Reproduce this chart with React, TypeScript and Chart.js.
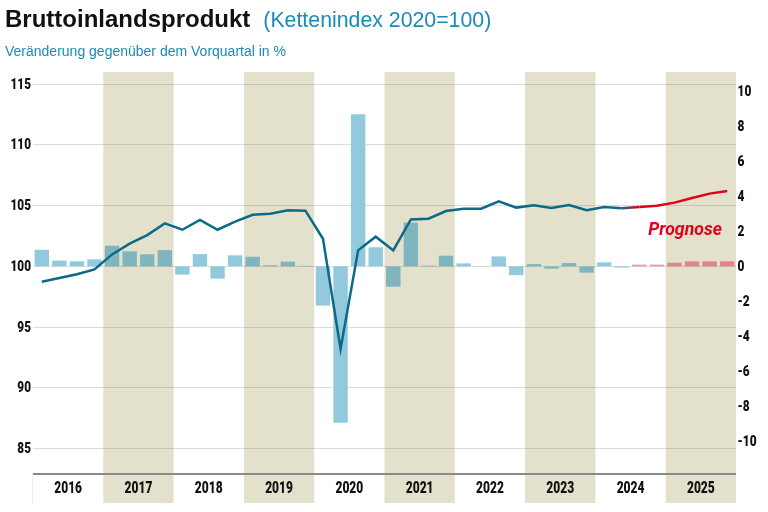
import React, { useEffect, useRef } from "react";
import { Chart, registerables } from "chart.js";

Chart.register(...registerables);

const years = [2016, 2017, 2018, 2019, 2020, 2021, 2022, 2023, 2024, 2025];
const quarters = ["Q1", "Q2", "Q3", "Q4"];

// Chain index 2020=100 (left axis)
const indexValues = [
  98.74, 99.05, 99.35, 99.75,
  100.99, 101.87, 102.58, 103.54,
  103.02, 103.82, 103.02, 103.68,
  104.25, 104.34, 104.62, 104.59,
  102.28, 93.2, 101.32, 102.45,
  101.32, 103.87, 103.93, 104.56,
  104.75, 104.75, 105.36, 104.84,
  105.03, 104.81, 105.06, 104.62,
  104.89, 104.78, 104.89, 105.0,
  105.25, 105.63, 105.99, 106.21,
];

// Change vs. previous quarter in % (right axis)
const changeValues = [
  0.95, 0.33, 0.29, 0.4,
  1.18, 0.86, 0.69, 0.93,
  -0.47, 0.7, -0.7, 0.63,
  0.55, 0.06, 0.27, 0.03,
  -2.24, -8.93, 8.69, 1.09,
  -1.16, 2.5, 0.04, 0.61,
  0.17, 0.02, 0.57, -0.5,
  0.13, -0.13, 0.19, -0.36,
  0.23, -0.07, 0.1, 0.1,
  0.21, 0.29, 0.29, 0.29,
];

const forecastStart = 34; // 2024 Q3
const leftTicks = [85, 90, 95, 100, 105, 110, 115];
const rightTicks = [-10, -8, -6, -4, -2, 0, 2, 4, 6, 8, 10];
const forecastLabel = "Prognose";

const BLUE_LINE = "#0c6a89";
const RED = "#e3001b";
const BAND = "#e3e0cb";
const FONT = "Roboto, 'DejaVu Sans', sans-serif";

const labels: string[] = [];
years.forEach((y) => quarters.forEach((q) => labels.push(`${y} ${q}`)));

const isBandYear = (i: number) => years[Math.floor(i / 4)] % 2 === 1;

const barColors = changeValues.map((_, i) => {
  const band = isBandYear(i);
  if (i >= forecastStart) return band ? "#e0878e" : "#ef9ba1";
  return band ? "#80b5c0" : "#93c9dd";
});

function condensedText(
  ctx: CanvasRenderingContext2D,
  text: string,
  x: number,
  y: number,
  align: CanvasTextAlign,
  factor: number
) {
  ctx.save();
  ctx.translate(x, y);
  ctx.scale(factor, 1);
  ctx.textAlign = align;
  ctx.fillText(text, 0, 0);
  ctx.restore();
}

const decorPlugin = {
  id: "decor",
  beforeDraw(chart: any) {
    const { ctx, chartArea } = chart;
    const x = chart.scales.x;
    const step = x.getPixelForValue(1) - x.getPixelForValue(0);
    ctx.save();
    years.forEach((y, yi) => {
      if (y % 2 !== 1) return;
      const l = x.getPixelForValue(yi * 4) - step / 2;
      const r = x.getPixelForValue(yi * 4 + 3) + step / 2;
      ctx.fillStyle = BAND;
      ctx.fillRect(l, chartArea.top, r - l, chartArea.bottom - chartArea.top + 30);
    });
    ctx.restore();
  },
  afterDatasetsDraw(chart: any) {
    const { ctx, chartArea } = chart;
    const x = chart.scales.x;
    const yL = chart.scales.y;
    const yR = chart.scales.y1;
    ctx.save();
    // faint separator in label area
    ctx.fillStyle = "#ebebeb";
    ctx.fillRect(chartArea.left - 1, chartArea.bottom, 1, 30);
    // axis line
    ctx.fillStyle = "#8a8a8a";
    ctx.fillRect(chartArea.left, chartArea.bottom, chartArea.right - chartArea.left, 2);
    // tick labels
    ctx.fillStyle = "#111";
    ctx.font = `900 14px ${FONT}`;
    ctx.textBaseline = "middle";
    leftTicks.forEach((v) => {
      condensedText(ctx, String(v), chartArea.left - 2, yL.getPixelForValue(v) + 1, "right", 0.84);
    });
    rightTicks.forEach((v) => {
      condensedText(ctx, String(v), chartArea.right + 1.5, yR.getPixelForValue(v) + 1, "left", 0.85);
    });
    // year labels
    ctx.font = `900 16px ${FONT}`;
    years.forEach((y, yi) => {
      const c = (x.getPixelForValue(yi * 4) + x.getPixelForValue(yi * 4 + 3)) / 2;
      condensedText(ctx, String(y), c, chartArea.bottom + 16, "center", 0.75);
    });
    // forecast label
    ctx.fillStyle = RED;
    ctx.font = `italic bold 19px ${FONT}`;
    ctx.textBaseline = "alphabetic";
    condensedText(ctx, forecastLabel, chartArea.right - 14, yL.getPixelForValue(102.6), "right", 0.93);
    ctx.restore();
  },
};

export default function App() {
  const ref = useRef<HTMLCanvasElement>(null);

  useEffect(() => {
    const chart = new Chart(ref.current as HTMLCanvasElement, {
      type: "bar",
      data: {
        labels,
        datasets: [
          {
            type: "line",
            data: indexValues,
            yAxisID: "y",
            borderColor: BLUE_LINE,
            borderWidth: 2.5,
            pointRadius: 0,
            tension: 0,
            order: 0,
            segment: {
              borderColor: (c: any) => {
                const i = c.p0DataIndex;
                if (i < forecastStart - 1) return BLUE_LINE;
                if (i >= forecastStart) return RED;
                const g = c.chart.ctx.createLinearGradient(c.p0.x, 0, c.p1.x, 0);
                g.addColorStop(0, BLUE_LINE);
                g.addColorStop(1, RED);
                return g;
              },
            },
          } as any,
          {
            type: "bar",
            data: changeValues,
            yAxisID: "y1",
            backgroundColor: barColors,
            borderWidth: 0,
            barPercentage: 0.82,
            categoryPercentage: 1,
            order: 1,
          },
        ],
      },
      options: {
        animation: false,
        responsive: false,
        maintainAspectRatio: false,
        devicePixelRatio: 1,
        layout: { padding: { top: 72, left: 0, right: 0, bottom: 0 } },
        plugins: { legend: { display: false }, tooltip: { enabled: false } },
        scales: {
          x: {
            type: "category",
            offset: true,
            grid: { display: false },
            border: { display: false },
            ticks: { display: false },
            afterFit: (s: any) => {
              s.height = 39;
            },
          },
          y: {
            position: "left",
            min: 83,
            max: 116,
            grid: { color: "rgba(100,100,80,0.22)", lineWidth: 1, drawTicks: false },
            border: { display: false },
            ticks: { display: false },
            afterBuildTicks: (s: any) => {
              s.ticks = leftTicks.map((v) => ({ value: v }));
            },
            afterFit: (s: any) => {
              s.width = 33;
            },
          },
          y1: {
            position: "right",
            min: -11.8,
            max: 11.1,
            grid: { display: false, drawTicks: false },
            border: { display: false },
            ticks: { display: false },
            afterBuildTicks: (s: any) => {
              s.ticks = rightTicks.map((v) => ({ value: v }));
            },
            afterFit: (s: any) => {
              s.width = 32;
            },
          },
        },
      } as any,
      plugins: [decorPlugin],
    });
    return () => chart.destroy();
  }, []);

  return (
    <div
      style={{
        position: "fixed",
        left: 0,
        top: 0,
        width: 768,
        height: 512,
        background: "#fff",
        overflow: "hidden",
      }}
    >
      <canvas
        ref={ref}
        width={768}
        height={512}
        style={{ position: "absolute", left: 0, top: 0, width: 768, height: 512 }}
      />
      <div
        style={{
          position: "absolute",
          left: 5,
          top: 5,
          whiteSpace: "nowrap",
          fontFamily: "'Liberation Sans', Arial, sans-serif",
          lineHeight: "28px",
        }}
      >
        <span style={{ fontWeight: "bold", fontSize: 24, color: "#111" }}>Bruttoinlandsprodukt</span>
        <span style={{ fontSize: 21.3, color: "#1a8bb8", marginLeft: 13 }}>(Kettenindex 2020=100)</span>
      </div>
      <div
        style={{
          position: "absolute",
          left: 5,
          top: 43,
          whiteSpace: "nowrap",
          fontFamily: "'Liberation Sans', Arial, sans-serif",
          fontSize: 14,
          lineHeight: "16px",
          color: "#1a8bb8",
        }}
      >
        Veränderung gegenüber dem Vorquartal in %
      </div>
    </div>
  );
}
